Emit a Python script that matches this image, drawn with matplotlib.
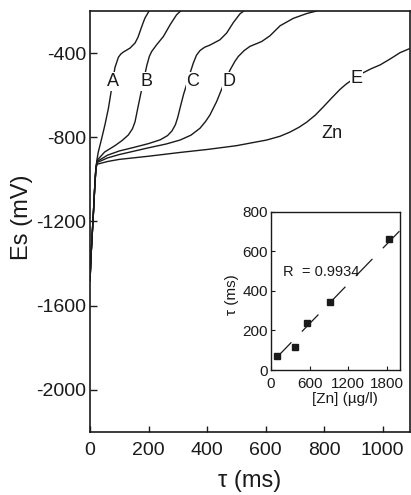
import numpy as np
import matplotlib.pyplot as plt

## data

t_start = [0, 4, 8, 12, 16, 20]
E_start = [-1480, -1350, -1250, -1150, -1040, -950]

t_A = [24, 28, 40, 51, 63, 74, 85, 97, 105, 114, 125, 137, 154, 164, 171, 180, 188, 202]
E_A = [-905, -872, -805, -741, -662, -567, -470, -420, -405, -395, -386, -376, -352, -325, -297, -262, -233, -200]

t_B = [24, 50, 85, 110, 131, 145, 154, 165, 177, 194, 203, 211, 228, 251, 274, 296, 310]
E_B = [-910, -870, -840, -815, -789, -760, -726, -650, -570, -460, -415, -392, -360, -321, -265, -218, -200]

t_C = [24, 60, 100, 150, 200, 240, 265, 280, 292, 300, 308, 320, 330, 342, 353, 364, 376,
       392, 410, 444, 467, 490, 513, 526]
E_C = [-915, -885, -865, -848, -830, -812, -792, -770, -740, -705, -660, -595, -551, -495, -448,
       -410, -388, -372, -362, -337, -305, -255, -213, -200]

t_D = [24, 60, 100, 150, 200, 260, 308, 345, 376, 395, 410, 433, 456, 479, 495, 507, 527, 547,
       587, 615, 650, 695, 741, 775]
E_D = [-920, -898, -882, -866, -850, -832, -813, -790, -757, -725, -694, -630, -551, -480, -440,
       -416, -388, -368, -345, -318, -270, -235, -212, -200]

t_E = [24, 60, 100, 200, 308, 400, 500, 604, 650, 684, 715, 741, 770, 798, 827, 855, 875, 895,
       929, 960, 992, 1026, 1060, 1094]
E_E = [-928, -915, -905, -890, -872, -858, -840, -813, -795, -775, -752, -728, -695, -655, -612,
       -572, -548, -528, -497, -475, -456, -428, -398, -378]

curve_names = ['A', 'B', 'C', 'D', 'E']
label_t = [80, 194, 351, 476, 912]
label_E = [-535, -535, -535, -535, -519]

# inset: transition time vs Zn concentration
zn_conc = [98, 372, 563, 915, 1834]
tau_zn = [72, 115, 236, 345, 662]
fit_a = 33
fit_b = 0.3354
R_value = 0.9934


## figure

plt.rcParams['font.family'] = ['Liberation Sans', 'DejaVu Sans']
plt.rcParams['axes.unicode_minus'] = False
ink = '#1a1a1a'

fig = plt.figure(figsize=(4.11, 4.95), dpi=100)
ax = fig.add_axes([0.219, 0.1273, 0.7786, 0.8505])

for t_c, E_c in zip([t_A, t_B, t_C, t_D, t_E], [E_A, E_B, E_C, E_D, E_E]):
    ax.plot(t_start + t_c, E_start + E_c, color=ink, lw=1.0)

for name, tx, ey in zip(curve_names, label_t, label_E):
    ax.text(tx, ey, name, fontsize=13, color=ink, ha='center', va='center',
            bbox=dict(facecolor='white', edgecolor='none', pad=0.5))
ax.text(826, -781, 'Zn', fontsize=13, color=ink, ha='center', va='center')

ax.set_xlim(0, 1094)
ax.set_ylim(-2200, -200)
ax.set_xticks(np.arange(0, 1001, 200))
ax.set_yticks(np.arange(-2000, -399, 400))
ax.tick_params(direction='in', labelsize=14, colors=ink, width=1.0)
ax.tick_params(axis='x', length=4.5, pad=7)
ax.tick_params(axis='y', length=5, pad=2.5)
for sp in ax.spines.values():
    sp.set_linewidth(1.2)
    sp.set_color(ink)

ax.set_xlabel('τ (ms)', fontsize=17, color=ink)
ax.set_ylabel('Es (mV)', fontsize=17, color=ink)
ax.xaxis.set_label_coords(0.5, -0.09)
ax.yaxis.set_label_coords(-0.178, 0.51)


## inset

axi = fig.add_axes([0.659, 0.2525, 0.314, 0.320])
axi.plot(zn_conc, tau_zn, 's', color=ink, ms=4.5)
x_fit = np.array([62, 2000])
line, = axi.plot(x_fit, fit_a + fit_b * x_fit, color=ink, lw=0.9)
line.set_dashes((19, 12))
axi.text(191, 497, 'R  = %.4f' % R_value, fontsize=10.5, color=ink, ha='left', va='center')

axi.set_xlim(0, 2000)
axi.set_ylim(0, 800)
axi.set_xticks([0, 600, 1200, 1800])
axi.set_yticks([0, 200, 400, 600, 800])
axi.tick_params(direction='in', labelsize=11, colors=ink, length=3, width=0.8)
axi.tick_params(axis='x', pad=5)
axi.tick_params(axis='y', pad=2)
for sp in axi.spines.values():
    sp.set_linewidth(1.0)
    sp.set_color(ink)

axi.set_xlabel('[Zn] (µg/l)', fontsize=11, color=ink)
axi.set_ylabel('τ (ms)', fontsize=11, color=ink)
axi.xaxis.set_label_coords(0.574, -0.137)
axi.yaxis.set_label_coords(-0.246, 0.474)

fig.savefig('out.png', dpi=100)
